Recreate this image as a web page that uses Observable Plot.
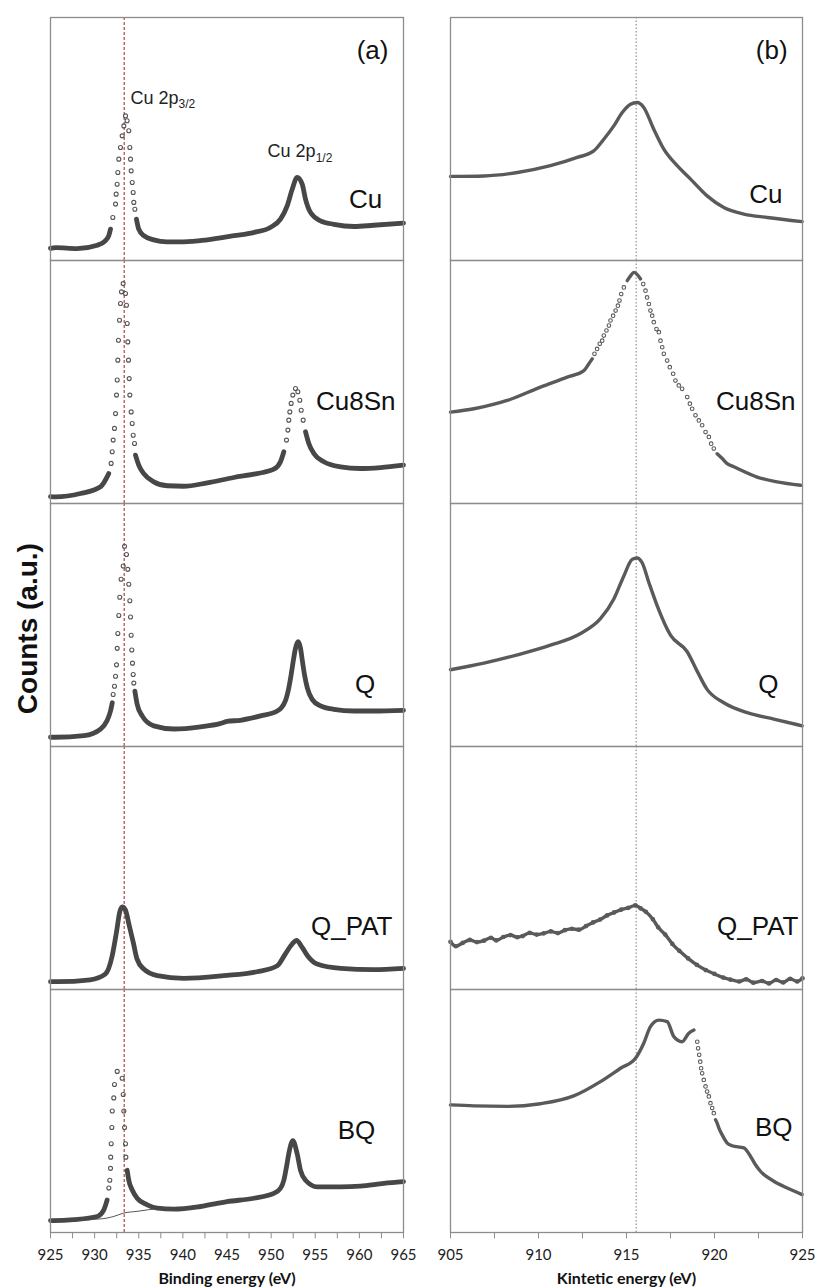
<!DOCTYPE html>
<html><head><meta charset="utf-8">
<script src="https://cdn.jsdelivr.net/npm/d3@7"></script>
<script src="https://cdn.jsdelivr.net/npm/@observablehq/plot@0.6"></script>
<style>
body{margin:0;background:#fff;}
#wrap{position:relative;width:815px;height:1288px;overflow:hidden;background:#fff;}
#wrap svg{position:absolute;top:0;}
</style></head><body><div id="wrap"></div>
<script>
const samples = ["Cu", "Cu8Sn", "Q", "Q_PAT", "BQ"];

// (a) Cu 2p region: [binding energy (eV), counts (a.u.)]
const aCu = [[925.0,5.0],[925.6,5.3],[928.0,4.9],[930.3,6.3],[931.2,8.1],[931.6,10.2],[931.8,12.9],[932.06,17.7],[932.37,23.2],[932.44,27.3],[932.55,31.4],[932.63,36.2],[932.74,41.7],[932.93,46.5],[933.12,51.3],[933.31,55.4],[933.5,59.5],[933.68,57.5],[933.87,53.4],[933.99,46.5],[934.07,41.7],[934.14,36.9],[934.26,32.1],[934.37,28.0],[934.44,23.9],[934.56,21.1],[934.74,17.0],[935.0,12.9],[935.57,10.2],[936.7,8.5],[938.2,7.7],[940.1,7.7],[942.75,8.5],[945.8,10.2],[948.0,11.5],[949.9,13.6],[951.06,17.0],[951.82,22.5],[952.39,29.3],[952.95,34.2],[953.52,31.4],[953.9,25.2],[954.46,19.8],[955.6,16.3],[957.1,14.9],[959.4,14.0],[961.6,14.5],[965.0,15.4]];
const aCu8Sn = [[925.0,2.8],[925.57,2.7],[928.4,4.1],[930.67,6.9],[931.6,12.3],[931.87,16.5],[931.99,21.3],[932.1,26.1],[932.25,30.9],[932.37,37.0],[932.48,44.6],[932.56,50.8],[932.63,59.0],[932.7,67.2],[932.82,75.4],[932.93,82.3],[933.04,87.1],[933.23,90.5],[933.5,86.4],[933.61,81.6],[933.69,74.1],[933.76,66.5],[933.84,59.0],[933.92,51.4],[933.99,44.6],[934.14,37.7],[934.26,32.9],[934.37,28.1],[934.52,24.7],[934.63,19.9],[935.0,15.8],[935.57,12.3],[936.7,8.9],[938.22,7.3],[940.1,7.1],[942.76,8.5],[945.77,10.7],[948.4,12.3],[950.3,14.1],[951.06,17.2],[951.44,21.3],[951.74,26.1],[951.9,30.2],[952.0,34.3],[952.12,37.7],[952.27,41.2],[952.46,44.6],[952.76,47.3],[953.03,46.0],[953.25,42.5],[953.41,38.4],[953.63,34.3],[953.9,29.5],[954.27,24.7],[954.84,20.6],[955.97,17.2],[957.86,15.1],[960.13,14.4],[962.4,14.8],[965.0,15.8]];
const aQ = [[925.0,3.8],[925.57,3.8],[928.8,4.5],[930.67,7.2],[931.4,10.6],[931.8,14.6],[932.0,18.0],[932.1,21.4],[932.25,24.8],[932.37,28.9],[932.48,33.6],[932.56,40.4],[932.63,46.5],[932.74,53.9],[932.85,61.4],[933.0,68.8],[933.24,74.3],[933.39,82.4],[933.61,79.0],[933.76,72.9],[933.87,66.8],[933.99,60.0],[934.07,53.3],[934.14,45.8],[934.21,39.7],[934.29,34.3],[934.37,29.6],[934.44,26.1],[934.56,22.8],[934.82,17.4],[935.39,12.6],[936.7,8.5],[939.0,7.2],[942.0,8.1],[944.2,9.4],[945.0,10.3],[946.5,10.8],[948.8,12.6],[950.7,14.6],[951.6,18.7],[952.0,24.1],[952.27,29.6],[952.5,35.0],[952.76,40.4],[953.06,43.1],[953.33,40.4],[953.55,35.0],[953.78,29.6],[954.1,24.1],[954.65,19.4],[955.6,16.7],[957.1,15.3],[959.4,14.6],[961.65,14.6],[965.0,14.9]];
const aQPAT = [[925.0,3.2],[925.76,3.2],[929.5,4.0],[931.2,6.3],[932.0,14.0],[932.48,23.7],[932.85,32.0],[933.12,34.0],[933.5,32.7],[933.87,27.1],[934.37,19.5],[934.8,12.6],[935.57,8.4],[937.1,5.7],[940.1,4.6],[944.6,5.7],[948.4,7.3],[950.7,9.8],[951.6,14.6],[952.4,18.8],[952.88,20.2],[953.5,17.4],[954.1,14.0],[955.2,10.5],[957.9,8.7],[961.6,8.2],[965.0,8.7]];
const aBQ = [[925.0,4.9],[925.37,4.9],[927.64,5.3],[930.29,6.6],[931.04,9.3],[931.42,13.4],[931.61,18.3],[931.72,21.5],[931.8,26.4],[931.82,31.0],[931.88,36.5],[931.95,43.2],[932.0,50.0],[932.17,55.4],[932.25,60.9],[932.56,66.3],[933.12,63.5],[933.24,56.8],[933.31,50.0],[933.39,43.2],[933.5,36.5],[933.54,31.0],[933.69,25.6],[933.87,21.5],[934.26,17.5],[934.82,14.1],[935.96,11.4],[937.1,10.0],[939.0,9.6],[942.0,10.7],[945.0,12.7],[948.04,14.1],[950.3,16.1],[951.06,18.2],[951.44,21.5],[951.74,27.0],[952.0,32.4],[952.46,37.8],[952.95,32.4],[953.33,25.6],[953.9,21.5],[955.22,18.8],[957.86,18.8],[960.1,19.1],[962.77,20.2],[965.0,20.9]];
const aBQbackground = [[925.0,4.9],[930.67,5.6],[932.17,6.6],[933.3,8.0],[934.8,8.7],[935.96,9.3],[937.3,9.9]];

// (b) Auger region: [kinetic energy (eV), counts (a.u.)]
const bCu = [[905.0,34.6],[906.9,34.8],[908.8,36.2],[910.68,39.0],[912.2,42.4],[913.14,45.1],[913.71,49.9],[914.28,55.4],[914.76,60.9],[915.23,64.3],[915.6,65.0],[915.98,63.0],[916.55,54.0],[917.12,45.8],[917.88,39.0],[918.64,33.5],[919.58,26.6],[920.53,21.8],[921.67,19.1],[923.0,17.7],[924.98,16.0]];
const bCu8Sn = [[905.0,37.6],[906.33,39.0],[908.22,42.4],[910.11,47.9],[911.63,52.0],[912.58,54.7],[912.86,57.5],[913.05,59.5],[913.18,61.6],[913.33,63.6],[913.48,65.7],[913.62,67.0],[913.71,69.1],[913.86,71.2],[914.0,73.2],[914.09,75.3],[914.24,77.3],[914.38,79.4],[914.51,81.4],[914.6,83.5],[914.7,86.2],[914.85,88.9],[915.04,91.7],[915.23,93.7],[915.42,95.1],[915.8,92.4],[915.95,90.3],[916.08,87.6],[916.17,84.8],[916.27,82.1],[916.36,79.4],[916.46,77.3],[916.55,74.6],[916.7,71.8],[916.84,70.5],[916.93,67.0],[917.03,64.3],[917.12,61.6],[917.31,58.8],[917.46,56.1],[917.65,53.4],[917.78,50.6],[917.97,48.6],[918.16,47.2],[918.45,43.8],[918.6,41.1],[918.73,39.0],[918.92,36.3],[919.11,34.2],[919.3,32.2],[919.49,29.4],[919.68,27.4],[919.81,24.6],[919.96,22.6],[920.15,20.5],[920.44,18.5],[920.72,16.4],[921.1,15.1],[922.42,10.9],[923.56,8.9],[924.89,7.5]];
const bQ = [[905.0,31.6],[906.9,34.3],[908.8,37.7],[910.68,41.7],[912.39,46.5],[913.52,52.6],[914.28,60.7],[914.85,70.2],[915.32,77.0],[915.6,77.6],[915.89,75.6],[916.27,67.5],[916.74,58.0],[917.5,45.8],[918.45,39.0],[919.02,30.9],[919.58,23.5],[920.53,18.0],[921.86,13.9],[923.37,11.3],[924.98,8.5]];
const bQPAT = [[905.0,19.6],[905.3,17.8],[905.7,19.2],[906.1,20.4],[906.5,19.5],[906.9,20.1],[907.3,21.3],[907.6,20.2],[908.0,21.6],[908.4,22.4],[908.8,21.5],[909.1,22.0],[909.5,23.3],[909.9,22.6],[910.3,23.1],[910.7,23.9],[911.1,23.2],[911.5,24.4],[911.9,25.0],[912.3,24.6],[912.7,26.1],[913.1,27.6],[913.5,28.8],[913.9,30.5],[914.3,31.7],[914.7,32.9],[915.1,33.6],[915.5,34.6],[915.8,33.4],[916.1,32.0],[916.5,28.9],[916.8,25.6],[917.2,22.6],[917.6,18.8],[918.0,15.9],[918.5,12.8],[919.0,10.1],[919.5,8.0],[920.0,6.4],[920.5,4.9],[920.9,4.1],[921.4,3.3],[921.8,4.2],[922.2,2.8],[922.7,3.5],[923.1,2.5],[923.5,3.9],[923.9,2.9],[924.3,4.4],[924.7,3.3],[925.0,4.6]];
const bBQ = [[905.0,52.5],[906.33,52.1],[908.22,51.9],[910.11,53.0],[912.0,56.2],[913.52,62.1],[914.66,67.6],[915.51,71.7],[915.98,77.9],[916.36,84.7],[916.84,87.4],[917.31,86.8],[917.69,80.6],[918.16,78.5],[918.54,82.0],[918.83,83.3],[919.02,78.5],[919.07,75.8],[919.13,73.1],[919.19,70.3],[919.24,67.6],[919.3,65.5],[919.39,62.8],[919.49,60.1],[919.58,58.0],[919.68,56.0],[919.77,53.2],[919.87,51.2],[919.96,49.1],[920.06,46.4],[920.15,45.0],[920.25,43.0],[920.38,40.9],[920.53,38.9],[920.72,36.8],[921.0,35.7],[921.67,34.8],[922.05,31.3],[922.33,27.9],[922.61,25.2],[923.37,21.1],[924.13,18.3],[924.98,15.6]];

const bindingTicks = d3.range(925, 965.01, 2.5);
const bindingLabels = d3.range(925, 965.01, 5);
const kineticTicks = d3.range(905, 925.01, 2.5);
const kineticLabels = d3.range(905, 925.01, 5);
const cuRefBinding = 933.35;
const cuRefKinetic = 915.55;

// ---------- build tables ----------
const specA = {Cu: aCu, Cu8Sn: aCu8Sn, Q: aQ, Q_PAT: aQPAT, BQ: aBQ};
const specB = {Cu: bCu, Cu8Sn: bCu8Sn, Q: bQ, Q_PAT: bQPAT, BQ: bBQ};

const H = 1288, MT = 15, MB = 55;
const facetH = (H - MT - MB) / samples.length;

// gentle parts of a spectrum are drawn as a dense band, steep parts as separate markers
function split(spec, sx, sy, thr, dotsAll, minRun) {
  const lines = [], dots = []; let seg = 0;
  for (const s of samples) {
    const p = spec[s];
    const gentle = p.slice(0, -1).map((d, i) => Math.abs((p[i+1][1] - d[1]) * sy / ((p[i+1][0] - d[0]) * sx)) <= thr[s]);
    let i = 0;
    while (i < gentle.length) {
      if (!gentle[i]) { i++; continue; }
      let j = i; while (j + 1 < gentle.length && gentle[j + 1]) j++;
      if ((p[j + 1][0] - p[i][0]) * sx < minRun) for (let k = i; k <= j; k++) gentle[k] = false;
      i = j + 1;
    }
    const inLine = new Array(p.length).fill(false);
    let open = false;
    for (let k = 0; k < gentle.length; k++) {
      if (gentle[k]) {
        if (!open) { lines.push({sample: s, x: p[k][0], y: p[k][1], seg}); open = true; }
        lines.push({sample: s, x: p[k+1][0], y: p[k+1][1], seg});
        inLine[k] = inLine[k+1] = true;
      } else if (open) { seg++; open = false; }
    }
    seg++;
    p.forEach(([x, y], k) => { if (!inLine[k] || dotsAll[s]) dots.push({sample: s, x, y}); });
  }
  return {lines, dots};
}

function panel(cfg) {
  const innerW = cfg.width - cfg.ml - cfg.mr;
  const sx = innerW / (cfg.domain[1] - cfg.domain[0]);
  const sy = facetH / 100;
  const {lines, dots} = split(cfg.spec, sx, sy, cfg.thr, cfg.dotsAll, 10);
  const tickRows = cfg.ticks.map(x => ({x}));
  return Plot.plot({
    width: cfg.width, height: H,
    marginLeft: cfg.ml, marginRight: cfg.mr, marginTop: MT, marginBottom: MB,
    x: {domain: cfg.domain},
    y: {domain: [0, 100], axis: null},
    fy: {domain: samples, axis: null, padding: 0},
    style: {fontFamily: "Lato, sans-serif", fontSize: "15px", background: cfg.bg, overflow: "visible"},
    marks: [
      Plot.ruleX([cfg.ref], {stroke: cfg.refColor, strokeWidth: 1.1, strokeDasharray: cfg.refDash}),
      ...(cfg.extra || []),
      Plot.line(lines, {x: "x", y: "y", z: "seg", fy: "sample", stroke: cfg.lineColor, strokeWidth: cfg.lineWidth, curve: "monotone-x", strokeLinecap: "round", strokeLinejoin: "round"}),
      Plot.dot(dots, {x: "x", y: "y", fy: "sample", r: cfg.r, stroke: cfg.dotColor, strokeWidth: 1.1, fill: "none"}),
      Plot.frame({stroke: "#8c8c8c", strokeWidth: 1.3}),
      Plot.ruleX(tickRows, {x: "x", y1: 0, y2: -2.6, fy: () => "BQ", stroke: "#8c8c8c", strokeWidth: 1}),
      Plot.axisX({ticks: cfg.labels, tickSize: 0, tickPadding: 17, tickFormat: d3.format("d"), label: null, fill: "#222", fontSize: 15}),
      Plot.text(samples, {fy: d => d, x: d => cfg.lab[d][0], y: d => cfg.lab[d][1], text: d => d, textAnchor: "end", lineAnchor: "bottom", fontFamily: "Liberation Sans, Arial, sans-serif", fontSize: 26, fill: "#111"}),
      Plot.text([cfg.tag], {fy: () => "Cu", x: cfg.tagPos[0], y: cfg.tagPos[1], textAnchor: "end", lineAnchor: "bottom", fontFamily: "Liberation Sans, Arial, sans-serif", fontSize: 26, fill: "#111"}),
      Plot.text([cfg.title], {fy: () => "BQ", frameAnchor: "bottom", dy: 51, lineAnchor: "bottom", fontFamily: "Lato, sans-serif", fontWeight: "bold", fontSize: 16, fill: "#111"}),
      ...(cfg.more || [])
    ]
  });
}

const left = panel({
  width: 410, ml: 50, mr: 7, domain: [925, 965], spec: specA, bg: "white",
  thr: {Cu: 5, Cu8Sn: 3.8, Q: 7, Q_PAT: 99, BQ: 6.6},
  dotsAll: {},
  lineColor: "#474747", lineWidth: 4.8, dotColor: "#555", r: 2,
  ref: cuRefBinding, refColor: "#a8343c", refDash: "3,2",
  ticks: bindingTicks, labels: bindingLabels,
  lab: {Cu: [962.6, 21.8], Cu8Sn: [964.1, 38.3], Q: [961.8, 22.0], Q_PAT: [963.75, 22.4], BQ: [961.8, 38.6]},
  tag: "(a)", tagPos: [963.3, 83.1], title: "Binding energy (eV)",
  extra: [Plot.line(aBQbackground, {x: d => d[0], y: d => d[1], fy: () => "BQ", stroke: "#555", strokeWidth: 1, curve: "monotone-x"})],
  more: [
    Plot.text(["Cu 2p3/2"], {fy: () => "Cu", x: 934.07, y: 64.6, textAnchor: "start", lineAnchor: "bottom", fontFamily: "Liberation Sans, Arial, sans-serif", fontSize: 18, fill: "#222"}),
    Plot.text(["Cu 2p1/2"], {fy: () => "Cu", x: 949.6, y: 42.4, textAnchor: "start", lineAnchor: "bottom", fontFamily: "Liberation Sans, Arial, sans-serif", fontSize: 18, fill: "#222"}),
    Plot.text(["Counts (a.u.)"], {fy: () => "Q", x: 922.5, y: 48.5, rotate: -90, textAnchor: "middle", lineAnchor: "middle", fontFamily: "Liberation Sans, Arial, sans-serif", fontWeight: "bold", fontSize: 28, fill: "#111"})
  ]
});
const right = panel({
  width: 405, ml: 40, mr: 13, domain: [905, 925], spec: specB, bg: "transparent",
  thr: {Cu: 99, Cu8Sn: 1.5, Q: 99, Q_PAT: 99, BQ: 2.8},
  dotsAll: {Q_PAT: true},
  lineColor: "#5a5a5a", lineWidth: 3.4, dotColor: "#5a5a5a", r: 1.8,
  ref: cuRefKinetic, refColor: "#8a8a8a", refDash: "1.5,2",
  ticks: kineticTicks, labels: kineticLabels,
  lab: {Cu: [923.86, 23.5], Cu8Sn: [924.6, 38.3], Q: [923.64, 22.0], Q_PAT: [924.77, 22.4], BQ: [924.43, 39.8]},
  tag: "(b)", tagPos: [924.15, 83.1], title: "Kintetic energy (eV)"
});

left.style.left = "0px";
right.style.left = "410px";
const wrap = document.getElementById("wrap");
wrap.appendChild(left);
wrap.appendChild(right);

// subscripts for peak labels
d3.select(left).selectAll("text").each(function() {
  const m = /^Cu 2p(\d\/\d)$/.exec(this.textContent);
  if (m) {
    this.textContent = "Cu 2p";
    d3.select(this).append("tspan").attr("dy", "0.35em").attr("font-size", "12px").text(m[1]);
  }
});
</script></body></html>
